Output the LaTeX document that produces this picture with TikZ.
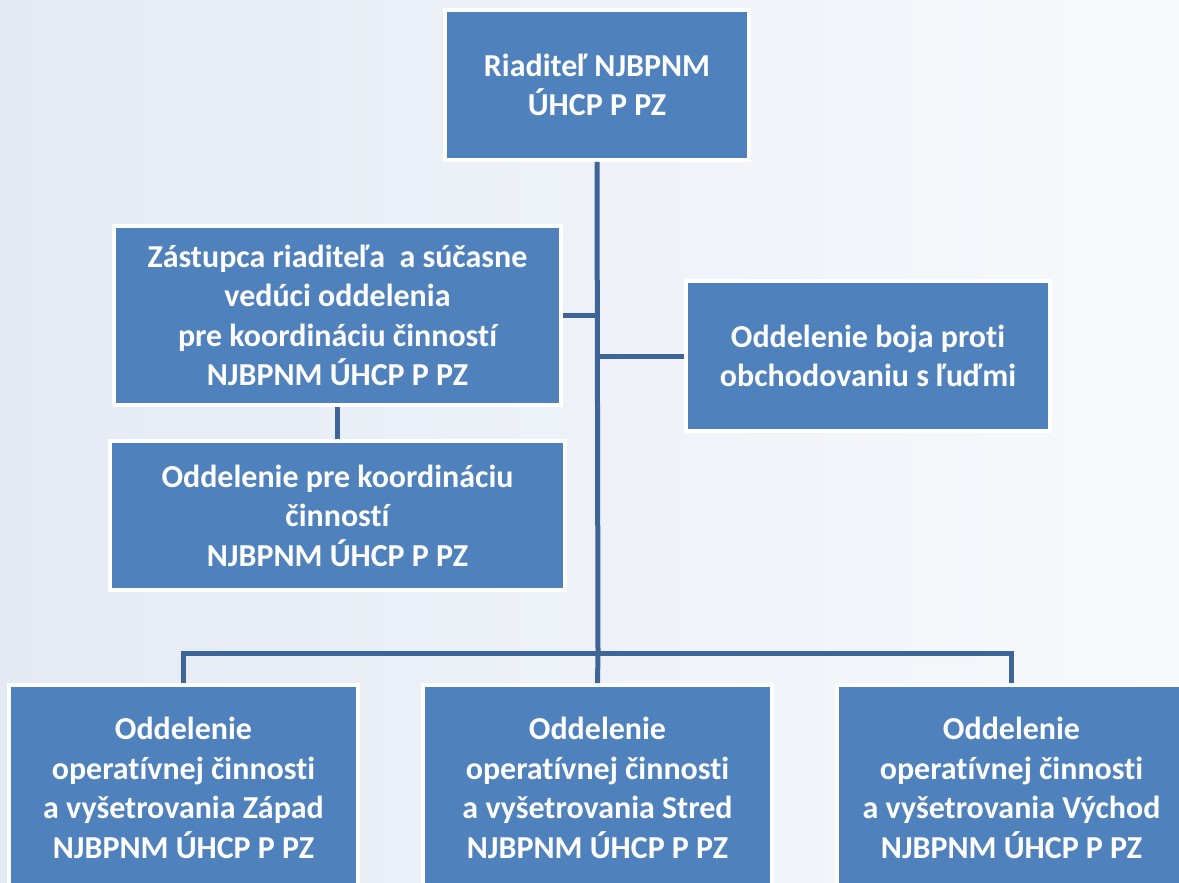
\documentclass[tikz,border=0pt]{standalone}
\usepackage{fontspec}
\setmainfont{Carlito}[Ligatures=NoCommon]
\usepackage{tikz}
\usetikzlibrary{calc,positioning}
\definecolor{boxblue}{HTML}{4F81BD}
\definecolor{lineblue}{HTML}{3E6597}
\definecolor{bgleft}{HTML}{E4EAF4}
\definecolor{bgright}{HTML}{F8F9FC}
\newcommand{\orgtext}{\fontsize{18.2}{22.5}\selectfont\bfseries}

\begin{document}
\begin{tikzpicture}[x=0.02cm, y=-0.02cm]
\tikzstyle{unit}=[rectangle, fill=boxblue, draw=white, line width=0.08cm, inner sep=0pt, text=white, align=center, font=\orgtext]
\tikzstyle{region}=[unit, minimum width=6.98cm, minimum height=4.12cm]
\tikzstyle{connect}=[draw=lineblue, line width=0.1cm]

  \useasboundingbox (0,0) rectangle (1179,882);
  \shade[left color=bgleft, right color=bgright] (0,0) rectangle (1179,882);

  \node[unit, minimum width=6.08cm, minimum height=3.0cm]  (director) at (597,85)     {Riaditeľ NJBPNM\\ÚHCP P PZ};
  \node[unit, minimum width=8.94cm, minimum height=3.58cm] (deputy)   at (337.5,315.5) {Zástupca riaditeľa~ a súčasne\\vedúci oddelenia\\pre koordináciu činností\\NJBPNM ÚHCP P PZ};
  \node[unit, minimum width=9.10cm, minimum height=2.98cm] (coord)    at (337.5,515.5) {Oddelenie pre koordináciu\\činností\\NJBPNM ÚHCP P PZ};
  \node[unit, minimum width=7.28cm, minimum height=3.0cm]  (traffic)  at (868,356)    {Oddelenie boja proti\\obchodovaniu s ľuďmi};

  \node[region] (west)   at (183.5,788)  {Oddelenie\\operatívnej činnosti\\a vyšetrovania Západ\\NJBPNM ÚHCP P PZ};
  \node[region] (centre) at (597.5,788)  {Oddelenie\\operatívnej činnosti\\a vyšetrovania Stred\\NJBPNM ÚHCP P PZ};
  \node[region] (east)   at (1011.5,788) {Oddelenie\\operatívnej činnosti\\a vyšetrovania Východ\\NJBPNM ÚHCP P PZ};

  \coordinate (bus) at (598,653);

  \path (director.south) edge [connect] (bus);
  \path (deputy.east) edge [connect] (deputy.east -| bus);
  \path (traffic.west) edge [connect] (traffic.west -| bus);
  \path (deputy.south) edge [connect] (coord.north);
  \draw[connect] (west.north) |- (bus) -| (east.north);
  \path (centre.north) edge [connect] (bus);

\end{tikzpicture}
\end{document}
